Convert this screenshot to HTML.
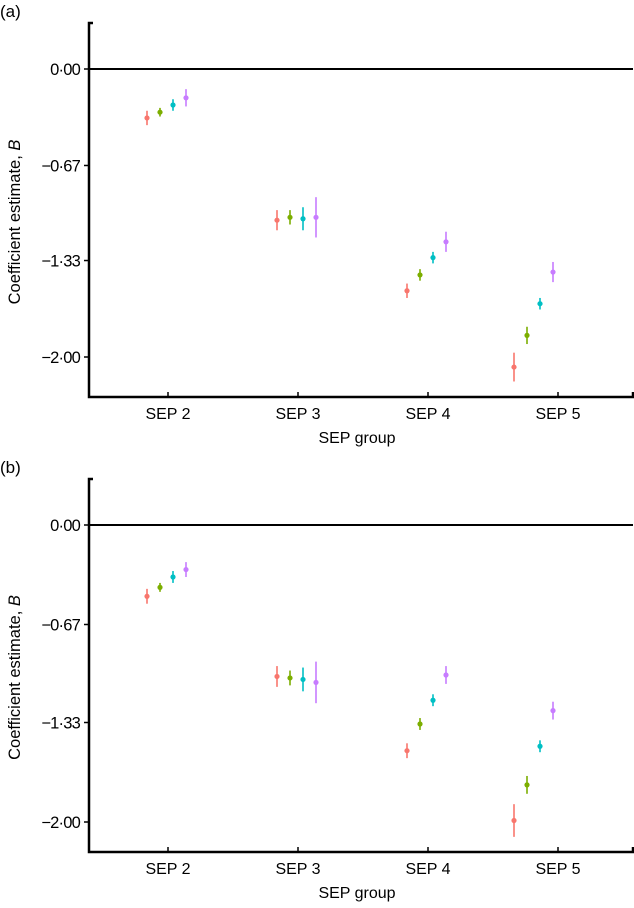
<!DOCTYPE html>
<html><head><meta charset="utf-8">
<style>
html,body{margin:0;padding:0;background:#fff;}
svg{display:block;font-family:"Liberation Sans",Arial,sans-serif;}
</style></head>
<body>
<svg id="chart" width="634" height="908" viewBox="0 0 634 908" xmlns="http://www.w3.org/2000/svg"></svg>
<script>
const categories = ["SEP 2","SEP 3","SEP 4","SEP 5"];
const seriesNames = ["model-1","model-2","model-3","model-4"];
const seriesColors = ["#F8766D","#7CAE00","#00BFC4","#C77CFF"];
const yTicks = [0,-0.67,-1.33,-2.00];
const yTickLabels = ["0·00","−0·67","−1·33","−2·00"];
// panel (a)
const aValues = [
  [-0.34,-1.05,-1.54,-2.07],
  [-0.30,-1.03,-1.43,-1.85],
  [-0.25,-1.04,-1.31,-1.63],
  [-0.20,-1.03,-1.20,-1.41]
];
const aErrors = [
  [0.05,0.07,0.05,0.10],
  [0.03,0.05,0.04,0.06],
  [0.04,0.08,0.04,0.04],
  [0.06,0.14,0.07,0.07]
];
// panel (b)
const bValues = [
  [-0.48,-1.02,-1.52,-1.99],
  [-0.42,-1.03,-1.34,-1.75],
  [-0.35,-1.04,-1.18,-1.49],
  [-0.30,-1.06,-1.01,-1.25]
];
const bErrors = [
  [0.05,0.07,0.05,0.11],
  [0.03,0.05,0.04,0.06],
  [0.04,0.08,0.04,0.04],
  [0.05,0.14,0.06,0.06]
];
const NS="http://www.w3.org/2000/svg";
const svg=document.getElementById('chart');
function mk(tag,attrs,parent){const e=document.createElementNS(NS,tag);for(const k in attrs)e.setAttribute(k,attrs[k]);(parent||svg).appendChild(e);return e;}

function panel(letter, values, errors, y0, yScalePx, axisTop, axisBottom){
  const g=mk('g',{});
  
  
  const xLeft=89, xRight=633;
  const y=v=>y0 - v*yScalePx;
  const xCat=i=>168+i*130;
  const dodgeCenter=[167,297,427,534];
  const offsets=[-20,-7,6,19];
  const lbl=mk('text',{x:0,y:axisTop-6,'font-size':17,fill:'#000'},g);lbl.textContent='('+letter+')';
  
  
  const zl=mk('line',{x1:xLeft,x2:xRight,y1:y(0),y2:y(0),stroke:'#000','stroke-width':2},g);
  
  
  const ya=mk('path',{d:`M${xLeft+4},${axisTop} H${xLeft} V${axisBottom} H${xRight} V${axisBottom-5}`,fill:'none',stroke:'#000','stroke-width':2.5},g);
  
  
  yTicks.forEach((t,i)=>{
    mk('line',{x1:xLeft-5,x2:xLeft,y1:y(t),y2:y(t),stroke:'#000','stroke-width':1.5},g);
    const tx=mk('text',{x:xLeft-9,y:y(t)+6,'font-size':16.5,'text-anchor':'end',fill:'#000','letter-spacing':'-0.8'},g);
    tx.textContent=yTickLabels[i];
    
    
  });
  categories.forEach((c,i)=>{
    mk('line',{x1:xCat(i),x2:xCat(i),y1:axisBottom,y2:axisBottom-5,stroke:'#000','stroke-width':1.5},g);
    const tx=mk('text',{x:xCat(i),y:axisBottom+22,'font-size':16,'text-anchor':'middle',fill:'#000'},g);
    tx.textContent=c;
    
    
  });
  const xt=mk('text',{x:(xLeft+xRight)/2-4,y:axisBottom+46,'font-size':16,'text-anchor':'middle',fill:'#000'},g);
  xt.textContent='SEP group';
  
  
  const cy=(axisTop+axisBottom)/2+12;
  const yt=mk('text',{x:0,y:0,'font-size':16.5,'text-anchor':'middle',fill:'#000',transform:`translate(20,${cy}) rotate(-90)`},g);
  yt.innerHTML='Coefficient estimate, <tspan font-style="italic">B</tspan>';
  
  
  values.forEach((ser,s)=>{
    ser.forEach((v,i)=>{
      const x=dodgeCenter[i]+offsets[s];
      const e=errors[s][i];
      const l=mk('line',{x1:x,x2:x,y1:y(v+e),y2:y(v-e),stroke:seriesColors[s],'stroke-width':1.6},g);
      
      
      const c=mk('circle',{cx:x,cy:y(v),r:2.6,fill:seriesColors[s]},g);
      
      
    });
  });
}
panel('a',aValues,aErrors,69,144,23,397);
panel('b',bValues,bErrors,525,148.5,479,852);
</script>
</body></html>
